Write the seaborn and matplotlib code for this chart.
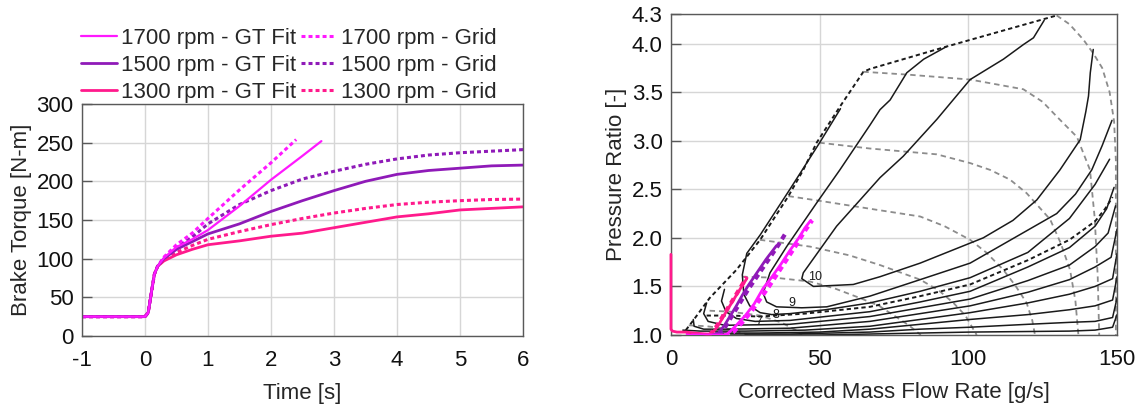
import matplotlib
matplotlib.use("Agg")
import matplotlib.pyplot as plt
import seaborn as sns

# ---------------- left panel: brake torque during tip-in ----------------
t_fit_1700 = [-1, 0, 0.05, 0.1, 0.15, 0.2, 0.3, 0.5, 0.75, 1, 1.5, 2, 2.5, 2.8]
tq_fit_1700 = [25, 25, 30, 55, 80, 90, 101, 115, 125, 137, 168, 202, 233, 252]
t_grid_1700 = [-1, 0, 0.05, 0.1, 0.15, 0.2, 0.3, 0.5, 0.75, 1, 1.5, 2, 2.4]
tq_grid_1700 = [25, 25, 30, 55, 80, 90, 102, 118, 133, 152, 189, 224, 254]

t_fit_1500 = [-1, 0, 0.05, 0.1, 0.15, 0.2, 0.3, 0.5, 0.75, 1, 1.5, 2, 2.5, 3, 3.5, 4, 4.5, 5, 5.5, 6]
tq_fit_1500 = [25, 25, 30, 55, 80, 90, 100, 112, 122, 132, 145, 161, 175, 188, 200, 209, 214, 217, 220, 221]
t_grid_1500 = [-1, 0, 0.05, 0.1, 0.15, 0.2, 0.3, 0.5, 0.75, 1, 1.5, 2, 2.5, 3, 3.5, 4, 4.5, 5, 5.5, 6]
tq_grid_1500 = [25, 25, 30, 55, 80, 90, 101, 114, 128, 145, 170, 188, 203, 213, 222, 229, 234, 237, 239, 241]

t_fit_1300 = [-1, 0, 0.05, 0.1, 0.15, 0.2, 0.3, 0.5, 0.75, 1, 1.5, 2, 2.5, 3, 3.5, 4, 4.5, 5, 5.5, 6]
tq_fit_1300 = [25, 25, 30, 55, 80, 90, 97, 105, 112, 118, 123, 129, 133, 140, 147, 154, 158, 163, 165, 167]
t_grid_1300 = [-1, 0, 0.05, 0.1, 0.15, 0.2, 0.3, 0.5, 0.75, 1, 1.5, 2, 2.5, 3, 3.5, 4, 4.5, 5, 5.5, 6]
tq_grid_1300 = [25, 25, 30, 55, 80, 90, 98, 108, 117, 125, 135, 144, 152, 159, 165, 170, 173, 175, 176.5, 177]

# ---------------- right panel: operating points on compressor map ----------------
mf_fit_1300 = [0, 0, 0.5, 2, 5, 8, 12, 13.5, 15, 16.5, 18, 20, 22, 24, 25.5]
pr_fit_1300 = [1.83, 1.06, 1.04, 1.03, 1.03, 1.02, 1.01, 1.01, 1.06, 1.13, 1.21, 1.31, 1.41, 1.51, 1.58]
mf_grid_1300 = [13, 14.5, 16, 18, 20, 22, 24, 25.5]
pr_grid_1300 = [1.0, 1.05, 1.12, 1.22, 1.32, 1.42, 1.52, 1.6]
mf_fit_1500 = [14, 16, 18, 20, 22, 24, 26, 28, 30, 32, 34, 35.5]
pr_fit_1500 = [1.0, 1.02, 1.1, 1.2, 1.3, 1.41, 1.51, 1.6, 1.69, 1.78, 1.86, 1.92]
mf_grid_1500 = [16, 18, 20, 22, 24, 26, 28, 30, 32, 34, 36, 38, 39]
pr_grid_1500 = [1.0, 1.07, 1.17, 1.27, 1.37, 1.47, 1.56, 1.65, 1.74, 1.83, 1.92, 2.02, 2.07]
mf_fit_1700 = [7, 10, 14, 18.5, 20, 22, 25, 28, 31, 34, 37, 40, 43, 45, 47]
pr_fit_1700 = [1.0, 1.0, 1.0, 1.0, 1.04, 1.1, 1.2, 1.32, 1.48, 1.6, 1.73, 1.87, 2.0, 2.1, 2.18]
mf_grid_1700 = [5, 10, 15, 19, 21, 24, 27, 30, 33, 36, 39, 42, 45, 47.5]
pr_grid_1700 = [1.0, 1.0, 1.0, 1.0, 1.03, 1.13, 1.24, 1.37, 1.5, 1.64, 1.78, 1.92, 2.07, 2.18]

# map: surge line and outer boundary
surge_line = [(5, 1.05), (7.5, 1.15), (13, 1.38), (22, 1.67), (30, 1.98), (39.5, 2.43), (44.5, 2.70),
              (49, 2.98), (56.8, 3.35), (64.7, 3.71), (67, 3.74), (92.7, 3.97), (129.7, 4.29)]
choke_line = [(129.7, 4.29), (134, 4.2), (138.7, 4.04), (142, 3.9), (145, 3.75), (147.5, 3.5),
              (149, 3.2), (149.6, 2.8), (149.6, 1.0)]

# map: grey dashed lines
grey_a = [(64.7, 3.71), (80, 3.68), (100.6, 3.63), (118.5, 3.53), (125, 3.4), (129.7, 3.25), (136.5, 3.04),
          (140.9, 2.70), (142.5, 2.2), (143.5, 1.6), (144, 1.0)]
grey_b = [(49.9, 2.98), (66.9, 2.92), (89.4, 2.86), (100.6, 2.77), (107.3, 2.70), (114, 2.60), (119.6, 2.46),
          (127.5, 2.19), (131, 1.95), (134.2, 1.67), (136, 1.35), (137, 1.0)]
grey_c = [(39.5, 2.43), (52.4, 2.37), (66.9, 2.30), (83.8, 2.22), (92, 2.12), (100.6, 1.98), (106, 1.85),
          (111.8, 1.67), (116, 1.5), (119.6, 1.33), (121.5, 1.15), (122.4, 1.0)]
grey_d = [(29.9, 1.98), (46.8, 1.91), (60, 1.82), (70.3, 1.72), (83.8, 1.57), (90, 1.46), (95, 1.33),
          (99, 1.2), (102.8, 1.0)]
grey_e = [(24, 1.6), (35, 1.59), (46.8, 1.55), (55, 1.48), (63.6, 1.38), (70, 1.3), (75, 1.2), (80, 1.1), (84, 1.0)]
grey_f = [(13, 1.25), (20, 1.24), (30, 1.2), (37, 1.13), (42, 1.05), (44, 1.0)]
grey_g = [(6, 1.1), (12, 1.09), (20, 1.06), (26, 1.0)]

# map: black solid lines
line_10 = [(125.5, 4.24), (121.9, 4.06), (118.5, 3.99), (111.8, 3.84), (100.6, 3.63), (89.4, 3.22), (78.1, 2.84),
           (70.3, 2.62), (55.7, 2.12), (44.5, 1.64), (44, 1.58), (47.9, 1.50), (61.3, 1.52), (70.3, 1.60),
           (83.8, 1.74), (105, 2.0), (115, 2.18), (123, 2.39), (130.8, 2.70), (137.6, 3.01), (139.5, 3.3),
           (140.4, 3.46), (141, 3.7), (142, 3.94)]
line_9 = [(92.7, 3.97), (85, 3.84), (79.3, 3.70), (73.7, 3.42), (70.3, 3.32), (66.9, 3.16), (56.8, 2.70),
          (49, 2.36), (38.9, 1.91), (33.3, 1.64), (31, 1.43), (32.2, 1.34), (35.5, 1.29), (44, 1.28),
          (52.4, 1.29), (66.9, 1.40), (83.8, 1.57), (100.6, 1.74), (120, 2.08), (129.7, 2.25), (136, 2.45),
          (141.5, 2.70), (145, 2.95), (148.3, 3.21)]
line_8 = [(57, 3.33), (50, 2.98), (40, 2.5), (30, 2.03), (25.5, 1.84), (24, 1.62), (24.5, 1.42), (26.5, 1.3),
          (30, 1.23), (33.9, 1.21), (40, 1.22), (52, 1.26), (66.9, 1.33), (83.8, 1.45), (100.6, 1.59),
          (120, 1.85), (134, 2.2), (142.6, 2.55), (147.5, 2.81)]
line_7 = [(18, 1.47), (17, 1.35), (18.5, 1.24), (22, 1.17), (28.3, 1.14), (40, 1.15), (66.9, 1.24), (83.8, 1.34),
          (100.6, 1.45), (120, 1.70), (134, 1.9), (142.6, 2.12), (146.5, 2.3), (149, 2.52)]
line_6 = [(12, 1.33), (11, 1.22), (12.5, 1.14), (18, 1.10), (40, 1.11), (66.9, 1.19), (83.8, 1.28),
          (100.6, 1.37), (120, 1.56), (134, 1.72), (142.6, 1.91), (147, 2.05), (149.5, 2.33)]
line_5 = [(7.5, 1.16), (7.8, 1.09), (11, 1.06), (20, 1.06), (40, 1.07), (66.9, 1.14), (83.8, 1.22),
          (100.6, 1.30), (120, 1.44), (134, 1.57), (142.6, 1.70), (148, 1.8), (150, 2.09)]
line_4 = [(4, 1.05), (10, 1.04), (25, 1.04), (45, 1.05), (66.9, 1.09), (83.8, 1.16), (100.6, 1.23),
          (120, 1.33), (134, 1.42), (142.6, 1.50), (148.5, 1.58), (150, 1.84)]
line_3 = [(15, 1.02), (30, 1.02), (50, 1.03), (66.9, 1.06), (83.8, 1.11), (100.6, 1.16), (120, 1.21),
          (134, 1.26), (142.6, 1.30), (148.5, 1.36), (150, 1.60)]
line_2 = [(20, 1.01), (40, 1.01), (66.9, 1.03), (83.8, 1.06), (100.6, 1.08), (120, 1.11), (134, 1.13),
          (142.6, 1.14), (148.5, 1.18), (150, 1.38)]
line_1 = [(25, 1.0), (50, 1.0), (66.9, 1.01), (100.6, 1.03), (134, 1.04), (142.6, 1.05), (148.5, 1.08), (150, 1.21)]
# black dashed line between the speed lines
mid_dashed = [(12, 1.2), (20, 1.2), (30, 1.19), (45, 1.22), (66.9, 1.29), (83.8, 1.40), (100.6, 1.52),
              (120, 1.77), (134, 1.98), (142.6, 2.17), (146, 2.3), (148.5, 2.42)]

speed_labels = ["10", "9", "8", "7"]
speed_label_pos = [(46.0, 1.60), (39.5, 1.33), (34.0, 1.21), (28.4, 1.13)]

c1700 = "#ff19ff"
c1500 = "#8f1ab8"
c1300 = "#ff1a8c"
dotted = (0, (1.3, 1.0))

sns.set_style("whitegrid")
plt.rcParams["font.family"] = ["Liberation Sans", "DejaVu Sans"]
plt.rcParams["axes.unicode_minus"] = False

fig = plt.figure(figsize=(11.43, 4.15), dpi=100)
ax1 = fig.add_axes([0.0717, 0.1904, 0.3859, 0.559])
ax2 = fig.add_axes([0.587, 0.1928, 0.3903, 0.7723])


def draw(ax, x, y, **kw):
    sns.lineplot(x=x, y=y, sort=False, estimator=None, ax=ax, **kw)


# left panel curves
draw(ax1, t_grid_1300, tq_grid_1300, color=c1300, linewidth=2.2, linestyle=dotted, label="1300 rpm - Grid")
draw(ax1, t_grid_1500, tq_grid_1500, color=c1500, linewidth=2.2, linestyle=dotted, label="1500 rpm - Grid")
draw(ax1, t_grid_1700, tq_grid_1700, color=c1700, linewidth=2.2, linestyle=dotted, label="1700 rpm - Grid")
draw(ax1, t_fit_1300, tq_fit_1300, color=c1300, linewidth=2.0, label="1300 rpm - GT Fit")
draw(ax1, t_fit_1500, tq_fit_1500, color=c1500, linewidth=2.0, label="1500 rpm - GT Fit")
draw(ax1, t_fit_1700, tq_fit_1700, color=c1700, linewidth=1.6, label="1700 rpm - GT Fit")

handles, labels = ax1.get_legend_handles_labels()
if ax1.legend_ is not None:
    ax1.legend_.remove()
order = ["1700 rpm - GT Fit", "1500 rpm - GT Fit", "1300 rpm - GT Fit",
         "1700 rpm - Grid", "1500 rpm - Grid", "1300 rpm - Grid"]
lookup = dict(zip(labels, handles))
fig.legend([lookup[k] for k in order], order, ncol=2, loc="upper left",
           bbox_to_anchor=(0.071, 0.932), frameon=False, fontsize=16,
           handlelength=1.6, handletextpad=0.2, columnspacing=0.2,
           labelspacing=0.27, borderpad=0, borderaxespad=0)

ax1.set_xlim(-1, 6)
ax1.set_ylim(0, 300)
ax1.set_xticks(range(-1, 7))
ax1.set_yticks(range(0, 301, 50))
ax1.set_xlabel("Time [s]", fontsize=16, labelpad=9)
ax1.set_ylabel("Brake Torque [N-m]", fontsize=16, labelpad=3)

# right panel: map lines
grey = "#8c8c8c"
for pts in [grey_a, grey_b, grey_c, grey_d, grey_e, grey_f, grey_g, choke_line]:
    draw(ax2, [p[0] for p in pts], [p[1] for p in pts], color=grey, linewidth=1.3, linestyle=(0, (3, 2.2)))
for pts in [line_10, line_9, line_8, line_7, line_6, line_5, line_4, line_3, line_2, line_1]:
    draw(ax2, [p[0] for p in pts], [p[1] for p in pts], color="#1a1a1a", linewidth=1.1)
for pts in [surge_line, mid_dashed]:
    draw(ax2, [p[0] for p in pts], [p[1] for p in pts], color="#1a1a1a", linewidth=1.4, linestyle=(0, (2.2, 1.6)))
for txt, (px, py) in zip(speed_labels, speed_label_pos):
    ax2.text(px, py, txt, fontsize=9, color="#1a1a1a", ha="left", va="center")

# right panel: operating trajectories
draw(ax2, mf_grid_1300, pr_grid_1300, color=c1300, linewidth=3.0, linestyle=dotted, zorder=3)
draw(ax2, mf_grid_1500, pr_grid_1500, color=c1500, linewidth=3.0, linestyle=dotted, zorder=3)
draw(ax2, mf_grid_1700, pr_grid_1700, color=c1700, linewidth=3.0, linestyle=dotted, zorder=3)
draw(ax2, mf_fit_1300, pr_fit_1300, color=c1300, linewidth=2.0, zorder=4, clip_on=False)
draw(ax2, mf_fit_1500, pr_fit_1500, color=c1500, linewidth=2.0, zorder=4)
draw(ax2, mf_fit_1700, pr_fit_1700, color=c1700, linewidth=2.0, zorder=4)
if ax2.legend_ is not None:
    ax2.legend_.remove()

ax2.set_xlim(0, 150)
ax2.set_ylim(1.0, 4.3)
ax2.set_xticks([0, 50, 100, 150])
pr_ticks = [1.0, 1.5, 2.0, 2.5, 3.0, 3.5, 4.0, 4.3]
ax2.set_yticks(pr_ticks)
ax2.set_yticklabels([f"{v:.1f}" for v in pr_ticks])
ax2.set_xlabel("Corrected Mass Flow Rate [g/s]", fontsize=16, labelpad=9)
ax2.set_ylabel("Pressure Ratio [-]", fontsize=16, labelpad=3)

for ax in (ax1, ax2):
    ax.set_axisbelow(True)
    ax.grid(True, color="#d6d6d6", linewidth=1.0)
    for s in ax.spines.values():
        s.set_color("#595959")
        s.set_linewidth(1.0)
    ax.tick_params(axis="y", direction="in", length=7, width=1, color="#595959",
                   pad=6, labelsize=16, labelcolor="#111111", left=True)
    ax.tick_params(axis="x", length=0, pad=10, labelsize=16, labelcolor="#111111")

fig.savefig("out.png", dpi=100)
